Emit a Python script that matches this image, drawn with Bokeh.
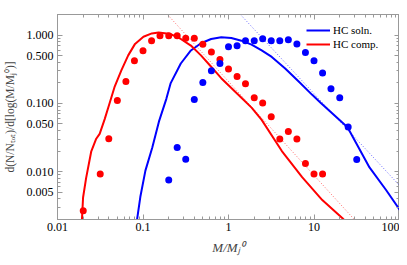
from bokeh.plotting import figure
from bokeh.models import Range1d, LogAxis, FixedTicker, PrintfTickFormatter, Legend, LegendItem
from bokeh.embed import file_html
from bokeh.resources import INLINE

# ---- data ----
red_pts_x = [0.020, 0.0316, 0.0398, 0.0501, 0.0631, 0.0794, 0.100, 0.126, 0.158, 0.200,
             0.251, 0.316, 0.398, 0.501, 0.631, 0.794, 1.00, 1.26, 1.58, 2.00,
             2.51, 3.16, 3.98, 5.01, 6.31, 7.94, 10.0, 12.6]
red_pts_y = [0.00268, 0.00927, 0.0304, 0.110, 0.210, 0.420, 0.589, 0.828, 0.977, 0.977,
             0.977, 0.897, 0.897, 0.736, 0.565, 0.438, 0.318, 0.247, 0.194, 0.121,
             0.101, 0.0638, 0.0301, 0.0389, 0.0301, 0.0132, 0.00927, 0.00927]

blue_pts_x = [0.200, 0.251, 0.316, 0.398, 0.501, 0.631, 0.794, 1.00, 1.26, 1.58, 2.00,
              2.51, 3.16, 3.98, 5.01, 6.31, 7.94, 10.0, 12.6, 15.8, 20.0, 25.1, 31.6]
blue_pts_y = [0.0076, 0.0226, 0.0152, 0.114, 0.203, 0.301, 0.384, 0.673, 0.695, 0.828, 0.828,
              0.885, 0.828, 0.828, 0.857, 0.743, 0.557, 0.420, 0.279, 0.164, 0.121, 0.0453, 0.0151]

red_curve_x = [0.01923, 0.01991, 0.02163, 0.02477, 0.02838, 0.03112, 0.03565, 0.04083, 0.04677,
               0.05598, 0.06714, 0.08072, 0.1012, 0.1268, 0.1521, 0.2109, 0.2767, 0.3631,
               0.4764, 0.6266, 0.8222, 1.079, 1.416, 1.862, 2.443, 4.207, 7.261, 12.50, 21.53, 25.1]
red_curve_y = [0.00178, 0.00420, 0.00813, 0.01963, 0.03041, 0.03589, 0.05888, 0.1023, 0.1778,
               0.3076, 0.5047, 0.7430, 0.9462, 1.057, 1.094, 1.033, 0.8770, 0.7015,
               0.5047, 0.3443, 0.2339, 0.1679, 0.1208, 0.0867, 0.0574, 0.0201, 0.00832, 0.00385,
               0.00209, 0.0017]

blue_curve_x = [0.0841, 0.0931, 0.1067, 0.1282, 0.1535, 0.1875, 0.2109, 0.2767, 0.3631, 0.4764,
                0.6266, 0.8222, 1.079, 1.416, 1.862, 2.443, 3.206, 4.603, 6.622, 9.528, 11.94,
                24.66, 44.57, 69.98, 100.9]
blue_curve_y = [0.00178, 0.00430, 0.01038, 0.02239, 0.0541, 0.1167, 0.1982, 0.3837, 0.5957, 0.7603,
                0.8770, 0.9268, 0.9057, 0.8279, 0.7261, 0.5957, 0.4786, 0.3251, 0.2094, 0.1334, 0.1023,
                0.0448, 0.01156, 0.00536, 0.00277]

red_fit_x = [0.193, 29.6]
red_fit_y = [2.0, 0.002]
blue_fit_x = [1.377, 100.0]
blue_fit_y = [2.0, 0.0063]

x_major = [0.01, 0.1, 1, 10, 100]
y_major = [0.005, 0.01, 0.05, 0.1, 0.5, 1.0]
x_minor = [m * d for d in [0.01, 0.1, 1, 10] for m in range(2, 10)]
y_minor = [m * d for d in [0.001, 0.01, 0.1, 1] for m in range(1, 10) if 0.002 <= m * d <= 2.0]

FONT = "Liberation Serif"
GRAY = "#999999"

p = figure(width=399, height=257, x_axis_type="log", y_axis_type="log",
           x_range=Range1d(0.01, 100), y_range=Range1d(0.002, 2.0),
           output_backend="svg", toolbar_location=None,
           min_border_left=50, min_border_right=0, min_border_top=14, min_border_bottom=34)
p.grid.visible = False
p.outline_line_color = GRAY
p.background_fill_color = "white"

def style_axis(ax, ticks, minor, fmt, show_labels):
    ax.ticker = FixedTicker(ticks=ticks, minor_ticks=minor)
    ax.formatter = PrintfTickFormatter(format=fmt)
    ax.axis_line_color = GRAY
    ax.major_tick_line_color = GRAY
    ax.minor_tick_line_color = GRAY
    ax.major_tick_in = 5
    ax.major_tick_out = 0
    ax.minor_tick_in = 3
    ax.minor_tick_out = 0
    ax.major_label_text_font = FONT
    ax.major_label_text_color = "black"
    if show_labels:
        ax.major_label_text_font_size = "12px"
        ax.major_label_standoff = 4
    else:
        ax.major_label_overrides = {t: "" for t in ticks}
        ax.major_label_text_font_size = "0px"
        ax.major_label_standoff = 0

style_axis(p.xaxis[0], x_major, x_minor, "%g", True)
style_axis(p.yaxis[0], y_major, y_minor, "%.3f", True)
p.xaxis[0].major_label_standoff = 3

p.xaxis[0].axis_label = "M/Mⱼ⁰"
p.xaxis[0].axis_label_text_font = FONT
p.xaxis[0].axis_label_text_font_style = "italic"
p.xaxis[0].axis_label_text_font_size = "13px"
p.xaxis[0].axis_label_standoff = 6

p.yaxis[0].axis_label = "d(N/Nₜₒₜ)/d[log(M/Mⱼ⁰)]"
p.yaxis[0].axis_label_text_font = FONT
p.yaxis[0].axis_label_text_font_style = "normal"
p.yaxis[0].axis_label_text_font_size = "11.5px"
p.yaxis[0].axis_label_standoff = 8

top = LogAxis()
style_axis(top, x_major, x_minor, "%g", False)
p.add_layout(top, "above")
right = LogAxis()
style_axis(right, y_major, y_minor, "%.3f", False)
p.add_layout(right, "right")

# fits (dotted)
p.line(red_fit_x, red_fit_y, line_color="red", line_alpha=0.6, line_width=1, line_dash="1 2")
p.line(blue_fit_x, blue_fit_y, line_color="blue", line_alpha=0.6, line_width=1, line_dash="1 2")

# curves
r_blue = p.line(blue_curve_x, blue_curve_y, line_color="blue", line_width=2)
r_red = p.line(red_curve_x, red_curve_y, line_color="red", line_width=2)

# points
p.scatter(red_pts_x, red_pts_y, size=7, fill_color="red", line_color=None)
p.scatter(blue_pts_x, blue_pts_y, size=7, fill_color="blue", line_color=None)

legend = Legend(items=[LegendItem(label="HC soln.", renderers=[r_blue]),
                       LegendItem(label="HC comp.", renderers=[r_red])],
                location=(245, 164))
legend.background_fill_alpha = 0
legend.border_line_alpha = 0
legend.label_text_font = FONT
legend.label_text_font_size = "11px"
legend.label_text_color = "black"
legend.glyph_width = 24
legend.glyph_height = 14
legend.label_height = 14
legend.label_standoff = 3
legend.padding = 4
legend.spacing = 0
legend.margin = 0
p.add_layout(legend)

open("out.html", "w").write(file_html(p, INLINE))
